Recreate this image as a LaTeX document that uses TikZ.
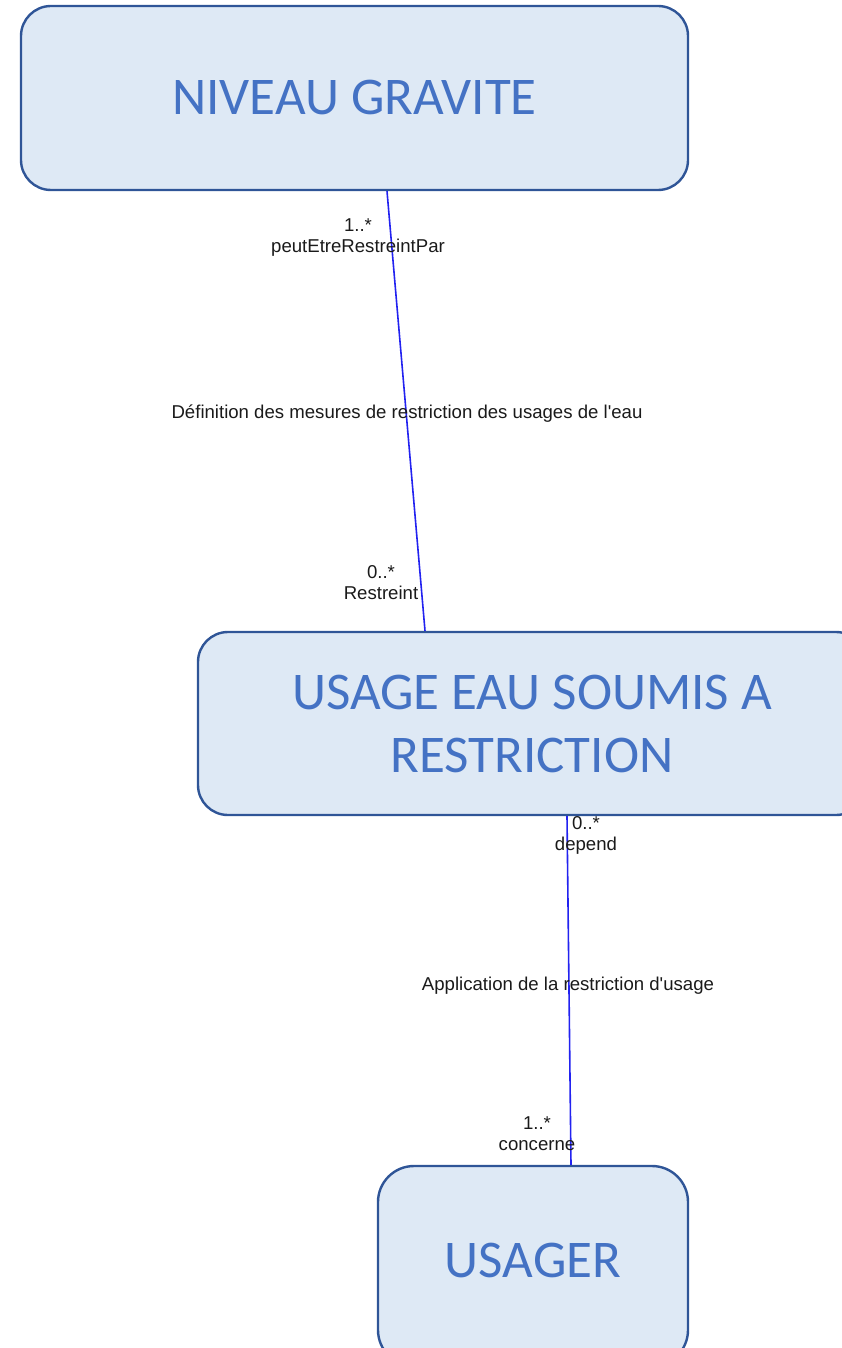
\documentclass[tikz,border=0pt]{standalone}
\usepackage{fontspec}
\setmainfont{Liberation Sans}
\newfontfamily\labfont{Liberation Sans}
\newfontfamily\boxfont{Carlito}
\definecolor{boxfill}{HTML}{DEE9F5}
\definecolor{boxdraw}{HTML}{2F5597}
\definecolor{boxtext}{HTML}{4472C4}
\definecolor{linkblue}{HTML}{2222F0}
\definecolor{labtext}{HTML}{1A1A1A}
\begin{document}
\begin{tikzpicture}[x=1pt,y=-1pt,
  entity/.style={draw=boxdraw, line width=2.4pt, fill=boxfill, rounded corners=30pt,
    text=boxtext, font=\boxfont\fontsize{53}{63}\selectfont, align=center, inner sep=0pt},
  link/.style={draw=linkblue, line width=1.6pt},
  lab/.style={text=labtext, font=\labfont\fontsize{18.6}{21}\selectfont, align=center, inner sep=0pt}]
\useasboundingbox (0,0) rectangle (842,1348);
\clip (0,0) rectangle (842,1348);
\node[entity, minimum width=667pt, minimum height=184pt] (top) at (354.5,98) {NIVEAU GRAVITE};
\node[entity, minimum width=668pt, minimum height=183pt] (mid) at (532,723.5) {USAGE EAU SOUMIS A\\RESTRICTION};
\node[entity, minimum width=310pt, minimum height=200pt, rounded corners=36pt] (bot) at (533,1266) {};
\node[text=boxtext, font=\boxfont\fontsize{53}{63}\selectfont, inner sep=0pt] (botlabel) at (533,1260) {USAGER};
\draw[link] ([xshift=32.5pt]top.south) -- ([xshift=-107pt]mid.north);
\draw[link] ([xshift=35pt]mid.south) -- ([xshift=38pt]bot.north);
\node[lab] (l1) at (358,238) {1..*\\peutEtreRestreintPar};
\node[lab] (l2) at (407,414) {Définition des mesures de restriction des usages de l'eau};
\node[lab] (l3) at (381,583) {0..*\\Restreint};
\node[lab] (l4) at (586,835) {0..*\\depend};
\node[lab] (l5) at (568,986) {Application de la restriction d'usage};
\node[lab] (l6) at (537,1134) {1..*\\concerne};
\end{tikzpicture}
\end{document}
